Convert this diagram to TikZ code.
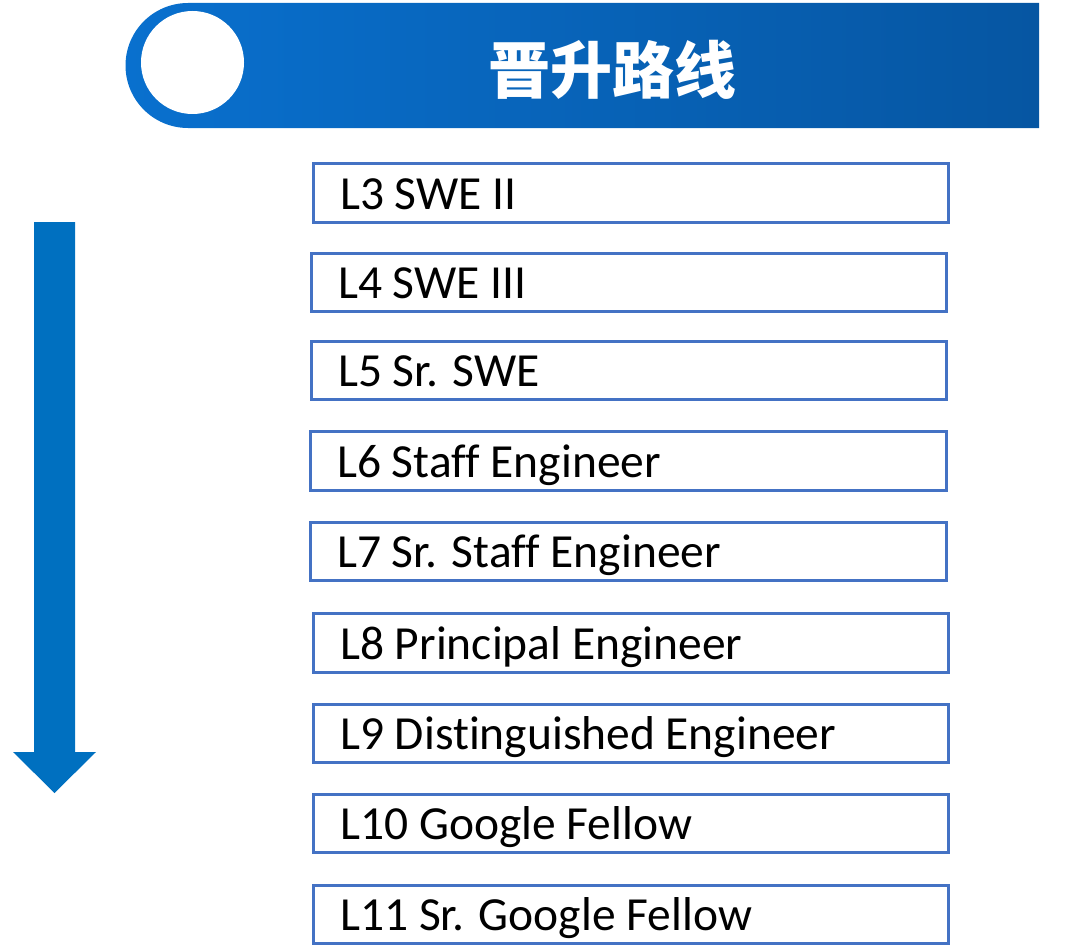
\documentclass[tikz,border=0pt]{standalone}
\usepackage{fontspec}
\setmainfont{Carlito}[Ligatures=NoCommon]
\newfontfamily\cjk{Noto Sans CJK SC}
\definecolor{bandL}{RGB}{9,112,206}
\definecolor{bandR}{RGB}{6,86,162}
\definecolor{boxblue}{RGB}{68,114,196}
\definecolor{arrowblue}{RGB}{0,112,192}
\tikzset{
  levelbox/.style={draw=boxblue, line width=3pt, fill=white, inner sep=0pt},
  leveltext/.style={anchor=base west, inner sep=0pt, font=\fontsize{47.5}{50}\selectfont, text=black},
}
\begin{document}
\begin{tikzpicture}[x=1pt,y=-1pt]
\useasboundingbox (0,0) rectangle (1080,950);
% header band
\shade[left color=bandL, right color=bandR]
  (1039,3) -- (188,3) arc[start angle=270, end angle=90, radius=62.5] -- (1039,128) -- cycle;
\fill[white] (192.5,62.5) circle[radius=51.5];
\node[font=\cjk\bfseries\fontsize{62}{66}\selectfont, text=white, inner sep=0pt] (title) at (612,70) {晋升路线};
% arrow
\fill[arrowblue] (34,222) -- (75,222) -- (75,752) -- (96,752) -- (54.5,793) -- (13,752) -- (34,752) -- cycle;
% boxes
\foreach \n/\xa/\ya/\xb/\yb/\t in {
  1/313/163/948/222/{L3 SWE II},
  2/311/253/946/311/{L4 SWE III},
  3/311/341/946/399/{L5 Sr. SWE},
  4/310/431/946/490/{L6 Staff Engineer},
  5/310/522/946/580/{L7 Sr. Staff Engineer},
  6/313/613/948/672/{L8 Principal Engineer},
  7/313/704/948/762/{L9 Distinguished Engineer},
  8/313/794/948/852/{L10 Google Fellow},
  9/313/885/948/943/{L11 Sr. Google Fellow}}{
  \node[levelbox, minimum width={\xb-\xa}, minimum height={\yb-\ya}] (b\n) at ({(\xa+\xb)/2},{(\ya+\yb)/2}) {};
  \node[leveltext] (t\n) at ({\xa+27},{(\ya+\yb)/2+16.5}) {\t};
}
\end{tikzpicture}
\end{document}
